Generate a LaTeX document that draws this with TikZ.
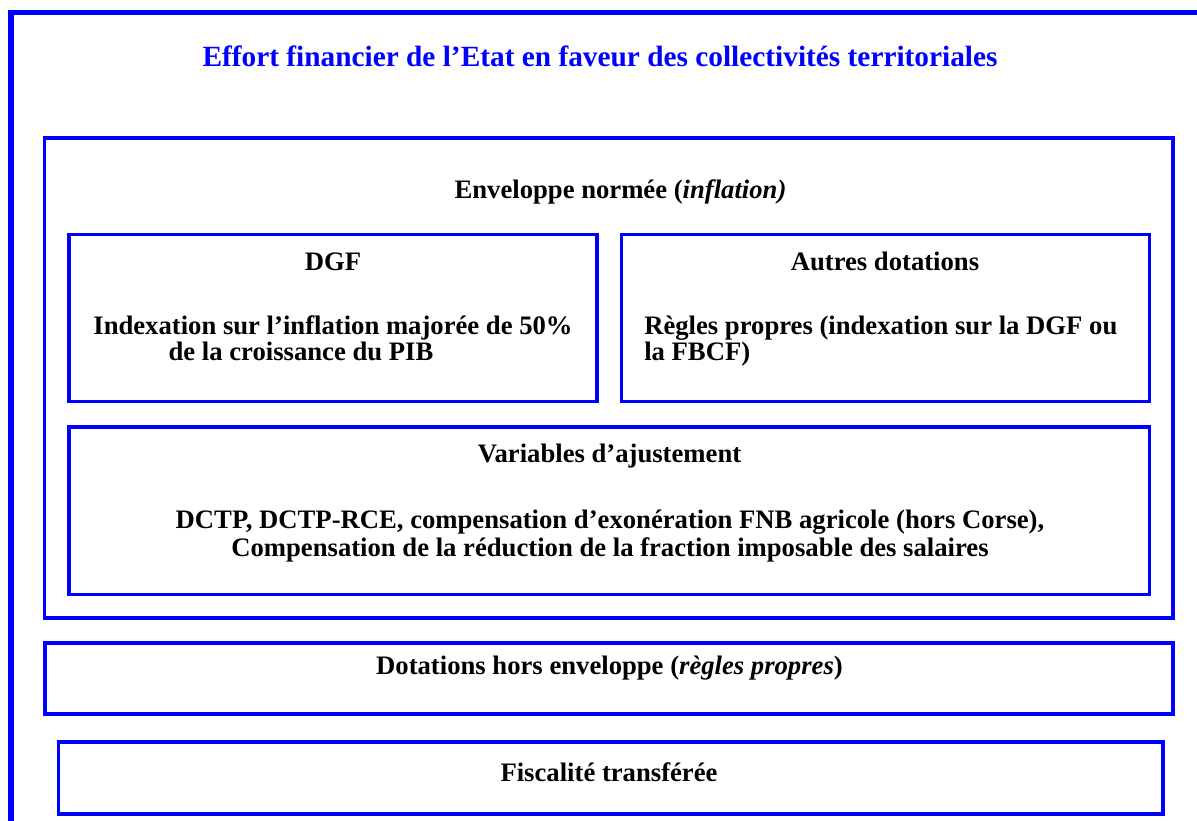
\documentclass[tikz,border=0pt]{standalone}
\usepackage{fontspec}
\setmainfont{Liberation Serif}
\definecolor{pureblue}{RGB}{0,0,255}
\begin{document}
\begin{tikzpicture}[x=0.75pt,y=-0.75pt,
  frame/.style={draw=pureblue,line width=4.2pt},
  box/.style={draw=pureblue,line width=2.3pt},
  txt/.style={anchor=base,inner sep=0pt,font=\fontsize{20}{24}\selectfont\bfseries},
  ttl/.style={anchor=base,inner sep=0pt,text=pureblue,font=\fontsize{22}{26}\selectfont\bfseries}]
\useasboundingbox (0,0) rectangle (1197,821);
\fill[white] (0,0) rectangle (1197,821);
\draw[frame] (10.7,821) -- (10.7,12.3) -- (1197,12.3);
% boxes
\draw[box] (44.5,138) rectangle (1173,618);
\draw[box] (69,234.5) rectangle (597,401.5);
\draw[box] (621.5,234.5) rectangle (1149.5,401.5);
\draw[box] (69,427) rectangle (1149.5,594.5);
\draw[box] (45,643) rectangle (1173,714);
\draw[box] (58.5,742) rectangle (1163,814);
% texts
\node[ttl] (title) at (600,66.7) {Effort financier de l’Etat en faveur des collectivités territoriales};
\node[txt] (env) at (620.5,198) {Enveloppe normée (\textit{inflation)}};
\node[txt] (dgf) at (333,270) {DGF};
\node[txt] (dgf1) at (333,334) {Indexation sur l’inflation majorée de 50\%};
\node[txt] (dgf2) at (301,360) {de la croissance du PIB};
\node[txt] (aut) at (885,270) {Autres dotations};
\node[txt,anchor=base west] (aut1) at (644,334) {Règles propres (indexation sur la DGF ou};
\node[txt,anchor=base west] (aut2) at (644,360) {la FBCF)};
\node[txt] (var) at (609.5,462) {Variables d’ajustement};
\node[txt] (var1) at (610,528) {DCTP, DCTP-RCE, compensation d’exonération FNB agricole (hors Corse),};
\node[txt] (var2) at (610,556) {Compensation de la réduction de la fraction imposable des salaires};
\node[txt] (hors) at (609.5,674) {Dotations hors enveloppe (\textit{règles propres})};
\node[txt] (fisc) at (609,781) {Fiscalité transférée};
\end{tikzpicture}
\end{document}
